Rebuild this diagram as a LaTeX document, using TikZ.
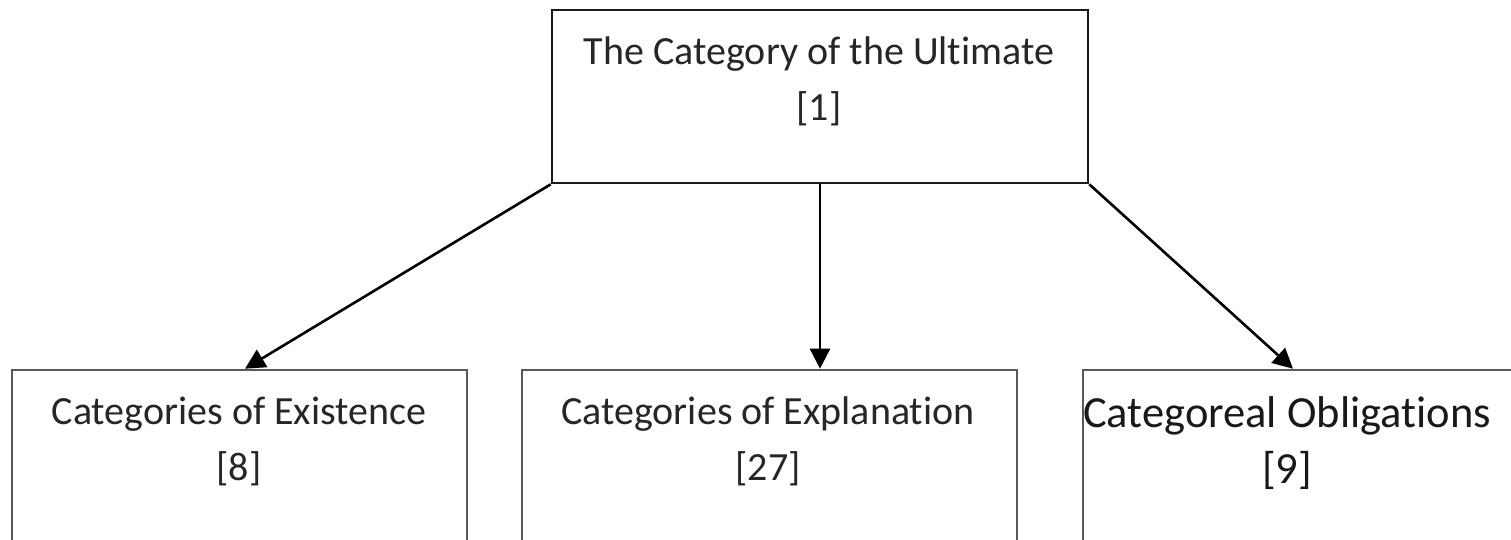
\documentclass[tikz,border=0pt]{standalone}
\usepackage{fontspec}
\setmainfont[Ligatures={NoCommon}]{Carlito}
\usetikzlibrary{arrows.meta}
\begin{document}
\begin{tikzpicture}[x=1pt,y=-1pt,
  box/.style={draw=#1,line width=2.6pt,minimum width=0pt,inner sep=0pt,fill=white},
  boxtext/.style={anchor=center,align=center,text=black!85,
    font=\fontsize{40}{56}\selectfont},
  link/.style={line width=2.6pt,-{Triangle[length=20pt,width=20pt]}}]
  \useasboundingbox (0,0) rectangle (1511,539);
  \clip (0,0) rectangle (1511,539);
  \fill[white] (0,0) rectangle (1511,539);
  % top box
  \node[box=black!90,minimum width=536pt,minimum height=173pt] (ult) at (820,96.5) {};
  \node[boxtext] (ultT) at (819,81) {The Category of the Ultimate\\{[1]}};
  % lower boxes (run off the lower edge)
  \node[box=black!65,minimum width=455pt,minimum height=260pt] (ex) at (239.5,500) {};
  \node[box=black!65,minimum width=495pt,minimum height=260pt] (expl) at (769.5,500) {};
  \node[box=black!65,minimum width=520pt,minimum height=260pt] (obl) at (1343,500) {};
  \node[boxtext] (exT) at (239,441) {Categories of Existence\\{[8]}};
  \node[boxtext] (explT) at (768,441) {Categories of Explanation\\{[27]}};
  \node[boxtext,text=black!90,font=\fontsize{44.5}{56}\selectfont] (oblT) at (1287,443) {Categoreal Obligations\\{[9]}};
  % connectors
  \draw[link] (ult.south west) -- (ex.north -| 245,0);
  \draw[link] (ult.south) -- (expl.north -| ult.south);
  \draw[link] (ult.south east) -- (obl.north -| 1293,0);
\end{tikzpicture}
\end{document}
